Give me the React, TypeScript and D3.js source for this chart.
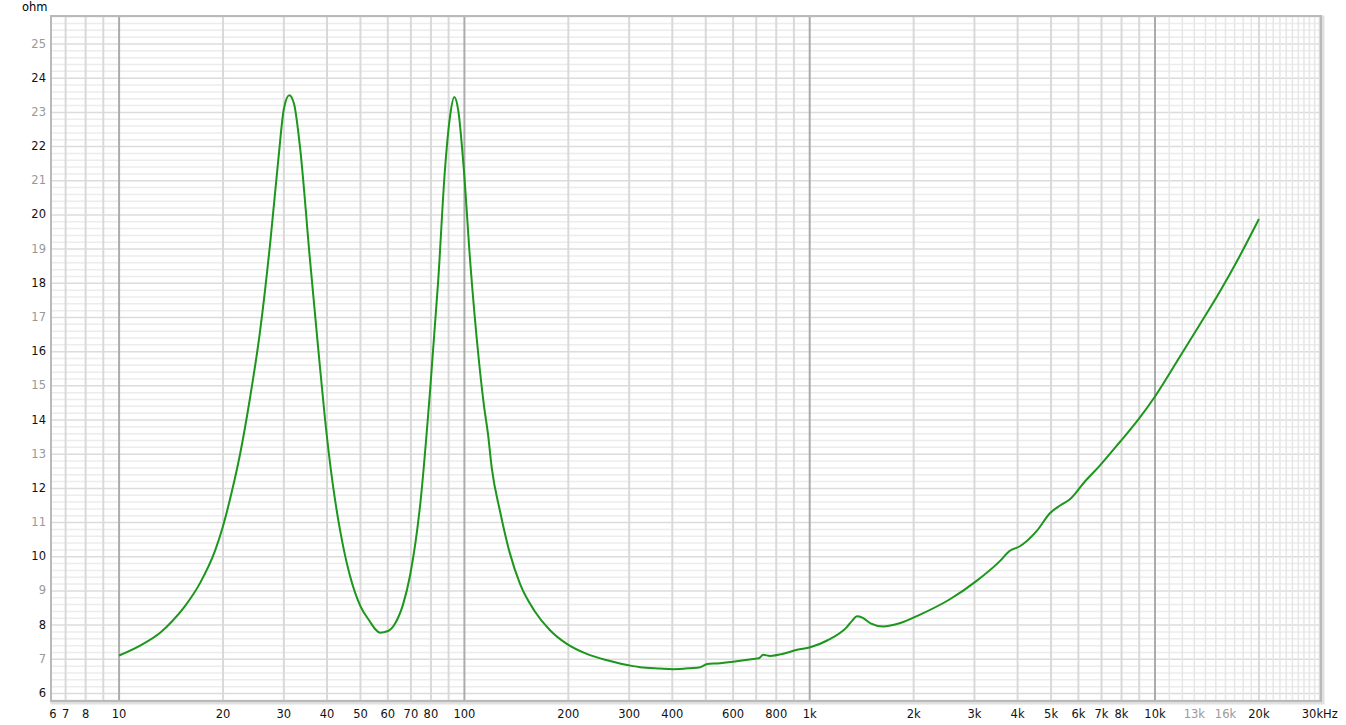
import React from "react";
import * as d3 from "d3";

// ---- data ----
const freqs = [
  10, 11.5, 13.2, 14.2, 15.5, 17.2, 19, 20, 21.2, 22.4, 23.9, 25.6, 27.4, 28.9, 30, 31.1, 32.1, 33.4, 35.7,
  37.8, 39.5, 41.6, 43.6, 46.6, 49.9, 53.3, 55, 57, 59.8, 63, 66.4, 69.6, 74.6, 79.6, 84, 87.8, 90.9,
  93.5, 96, 99.5, 104, 110, 114, 117, 120, 127, 135, 145, 160, 177, 198, 227, 259, 308, 323,
  368, 402, 450, 482, 505, 539, 600, 686, 715, 733, 768, 838, 919, 1003, 1123, 1283, 1330, 1370,
  1420, 1500, 1630, 1830, 2080, 2540, 3030, 3560, 3790, 4050, 4540, 4970, 5310, 5670, 6240, 6900,
  7900, 9000, 10000, 11800, 13400, 15400, 17600, 20000,
];
const impedance = [
  7.11, 7.4, 7.79, 8.1, 8.55, 9.25, 10.2, 10.9, 11.9, 13.0, 14.6, 16.6, 19.2, 21.6, 23.1, 23.5, 23.25, 22.0,
  18.7, 16.0, 14.0, 12.1, 10.8, 9.45, 8.57, 8.1, 7.9, 7.78, 7.82, 8.05, 8.6, 9.45, 11.6, 14.9, 18.1,
  21.3, 22.9, 23.45, 23.05, 21.4, 18.6, 15.8, 14.4, 13.6, 12.6, 11.3, 10.15, 9.2, 8.4, 7.85,
  7.45, 7.15, 6.97, 6.8, 6.77, 6.73, 6.71, 6.74, 6.77, 6.86, 6.88, 6.93, 7.01, 7.04, 7.13, 7.1, 7.16,
  7.28, 7.35, 7.55, 7.95, 8.14, 8.26, 8.22, 8.05, 7.96, 8.06, 8.3, 8.75, 9.28, 9.88, 10.17, 10.3,
  10.75, 11.28, 11.5, 11.68, 12.18, 12.65, 13.35, 14.05, 14.69, 15.85, 16.75, 17.75, 18.8, 19.88,
];

const yTicks = [6, 7, 8, 9, 10, 11, 12, 13, 14, 15, 16, 17, 18, 19, 20, 21, 22, 23, 24, 25];
const xTickValues = [6, 7, 8, 10, 20, 30, 40, 50, 60, 70, 80, 100, 200, 300, 400, 600, 800, 1000, 2000, 3000, 4000, 5000, 6000, 7000, 8000, 10000, 13000, 16000, 20000, 30000];
const xTickLabels = ["6", "7", "8", "10", "20", "30", "40", "50", "60", "70", "80", "100", "200", "300", "400", "600", "800", "1k", "2k", "3k", "4k", "5k", "6k", "7k", "8k", "10k", "13k", "16k", "20k", "30kHz"];
const greyXLabels = ["13k", "16k"];
const decades = [10, 100, 1000, 10000];
const minorMultipliers = [2, 3, 4, 5, 6, 7, 8, 9];
const fineHighFreqs = [11, 12, 13, 14, 15, 16, 17, 18, 19, 21, 22, 23, 24, 25, 26, 27, 28, 29].map((k) => k * 1000);

const W = 1346;
const H = 725;
const left = 51;
const right = 1321;
const top = 16;
const bottom = 701;

export default function App() {
  const x = d3.scaleLog().domain([6.35, 30250]).range([left, right]);
  const y = d3.scaleLinear().domain([5.78, 25.82]).range([bottom, top]);

  const minorV: number[] = [];
  [1, 10, 100, 1000].forEach((d) =>
    minorMultipliers.forEach((m) => {
      const f = d * m;
      if (f >= 6.35 && f <= 30250 && !decades.includes(f)) minorV.push(f);
    })
  );
  const highMinor = [20000, 30000];

  const hMinor: number[] = [];
  for (let i = 29; i <= 129; i++) {
    const v = i / 5;
    if (v >= 5.8 && v <= 25.8 && Math.abs(v - Math.round(v)) > 1e-6) hMinor.push(v);
  }

  const pts = freqs.map((f, i) => [x(f), y(impedance[i])] as [number, number]);
  const line = d3.line().curve(d3.curveMonotoneX)(pts) || "";

  const font = "'DejaVu Sans', Verdana, sans-serif";

  return (
    <svg width={W} height={H} style={{ position: "absolute", left: 0, top: 0, background: "#fff" }}>
      <rect x={0} y={0} width={W} height={H} fill="#fff" />
      <rect x={left + 1} y={top + 1} width={right - left + 1} height={bottom - top + 1} fill="none" stroke="#e0e0e0" strokeWidth={3} />
      <rect x={left} y={top} width={right - left} height={bottom - top} fill="#fff" />
      <g>
        {hMinor.map((v) => (
          <line key={"hm" + v} x1={left} x2={right} y1={y(v)} y2={y(v)} stroke="#ececec" strokeWidth={1.5} />
        ))}
        {yTicks.map((v) => (
          <line key={"hM" + v} x1={left} x2={right} y1={y(v)} y2={y(v)} stroke="#dcdcdc" strokeWidth={1.5} />
        ))}
        {fineHighFreqs.map((f) => (
          <line key={"vf" + f} x1={x(f)} x2={x(f)} y1={top} y2={bottom} stroke="#e6e6e6" strokeWidth={1.5} />
        ))}
        {minorV.map((f) => (
          <line key={"vm" + f} x1={x(f)} x2={x(f)} y1={top} y2={bottom} stroke="#d9d9d9" strokeWidth={2} />
        ))}
        {highMinor.map((f) => (
          <line key={"vh" + f} x1={x(f)} x2={x(f)} y1={top} y2={bottom} stroke="#d9d9d9" strokeWidth={2} />
        ))}
        {decades.map((f) => (
          <line key={"vd" + f} x1={x(f)} x2={x(f)} y1={top} y2={bottom} stroke="#ababab" strokeWidth={2} />
        ))}
      </g>
      <rect x={left} y={top} width={right - left} height={bottom - top} fill="none" stroke="#b9b9b9" strokeWidth={2} />
      <path d={line} fill="none" stroke="#1c961c" strokeWidth={2} strokeLinejoin="round" />
      <text x={22} y={7} fontFamily={font} fontSize={11.5} fill="#000" dominantBaseline="middle">ohm</text>
      {yTicks.map((v) => (
        <text key={"yl" + v} x={46} y={y(v)} fontFamily={font} fontSize={11.5} textAnchor="end" dominantBaseline="middle" fill={v % 2 === 0 ? "#111" : "#999"}>
          {v}
        </text>
      ))}
      {xTickValues.map((f, i) => (
        <text key={"xl" + f} x={Math.max(x(f), left + 2)} y={714} fontFamily={font} fontSize={11.5} textAnchor="middle" dominantBaseline="middle" fill={greyXLabels.includes(xTickLabels[i]) ? "#999" : "#111"}>
          {xTickLabels[i]}
        </text>
      ))}
    </svg>
  );
}
